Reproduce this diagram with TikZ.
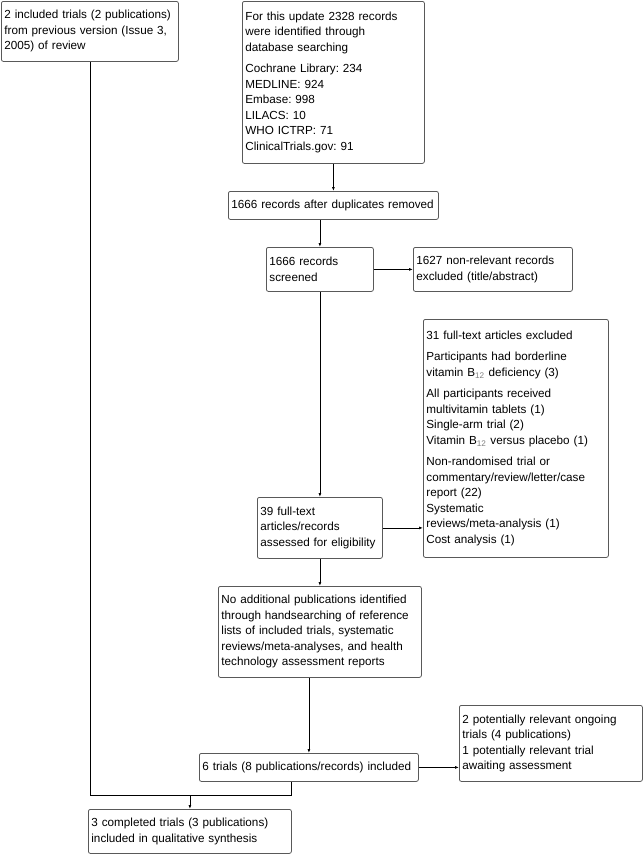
\documentclass[tikz,border=0pt]{standalone}
\usepackage{fontspec}
\setmainfont{Liberation Sans}
\usetikzlibrary{arrows.meta}
\frenchspacing

\newcommand{\bvit}{B\textsubscript{\color{gray}12}}

\tikzset{
  flowbox/.style={draw=black!65, rounded corners=2pt, anchor=north west,
    align=left, inner sep=3pt, line width=0.8pt,
    font=\fontsize{11.7}{15.5}\selectfont},
}

\begin{document}
\begin{tikzpicture}[x=1pt, y=-1pt, >={Latex[length=4pt,width=3pt]}, line width=0.8pt]

\useasboundingbox (0,0) rectangle (643,854);

% The boxes, top to bottom
\node [flowbox, text width=171pt, minimum height=60pt] (prev) at (1,1)
  {2 included trials (2 publications)\\ from previous version (Issue 3,\\ 2005) of review};
\node [flowbox, text width=176pt, minimum height=162pt] (search) at (242,1)
  {For this update 2328 records\\ were identified through\\ database searching\\[6pt]
   Cochrane Library: 234\\ MEDLINE: 924\\ Embase: 998\\ LILACS: 10\\ WHO ICTRP: 71\\ ClinicalTrials.gov: 91};
\node [flowbox, text width=204pt, minimum height=28pt] (dup) at (228,191)
  {1666 records after duplicates removed};
\node [flowbox, text width=101pt, minimum height=44pt] (screened) at (266,247)
  {1666 records\\ screened};
\node [flowbox, text width=153pt, minimum height=44pt] (nonrel) at (413,247)
  {1627 non-relevant records\\ excluded (title/abstract)};
\node [flowbox, text width=179pt, minimum height=238pt] (excl) at (423,319)
  {31 full-text articles excluded\\[6pt]
   Participants had borderline\\ vitamin \bvit{} deficiency (3)\\[6pt]
   All participants received\\ multivitamin tablets (1)\\ Single-arm trial (2)\\
   Vitamin \bvit{} versus placebo (1)\\[6pt]
   Non-randomised trial or\\ commentary/review/letter/case\\ report (22)\\ Systematic\\
   reviews/meta-analysis (1)\\ Cost analysis (1)};
\node [flowbox, text width=119pt, minimum height=61pt] (full) at (257,497)
  {39 full-text\\ articles/records\\ assessed for eligibility};
\node [flowbox, text width=197pt, minimum height=91pt] (noadd) at (218,586)
  {No additional publications identified\\ through handsearching of reference\\
   lists of included trials, systematic\\ reviews/meta-analyses, and health\\
   technology assessment reports};
\node [flowbox, text width=213pt, minimum height=28pt] (six) at (199,753)
  {6 trials (8 publications/records) included};
\node [flowbox, text width=177pt, minimum height=76pt] (ongoing) at (459,705)
  {2 potentially relevant ongoing\\ trials (4 publications)\\
   1 potentially relevant trial\\ awaiting assessment};
\node [flowbox, text width=197pt, minimum height=44pt] (done) at (88,809)
  {3 completed trials (3 publications)\\ included in qualitative synthesis};

% Connectors
\draw [->] (search.south) -- (search.south |- dup.north);
\draw [->] (dup.south -| screened.north) -- (screened.north);
\draw [->] (screened.east) -- (screened.east -| nonrel.west);
\draw [->] (screened.south) -- (full.north);
\draw [->] (full.east) -- (full.east -| excl.west);
\draw [->] (full.south) -- (noadd.north -| full.south);
\draw [->] (noadd.south -| six.north) -- (six.north);
\draw [->] (six.east) -- (six.east -| ongoing.west);

% Old and new trials meet before the last box
\coordinate (join) at (done.east |- 0,795);
\draw (prev.south) |- (join) -- (join |- six.south);
\draw [->] (done.north |- join) -- (done.north);

\end{tikzpicture}
\end{document}
